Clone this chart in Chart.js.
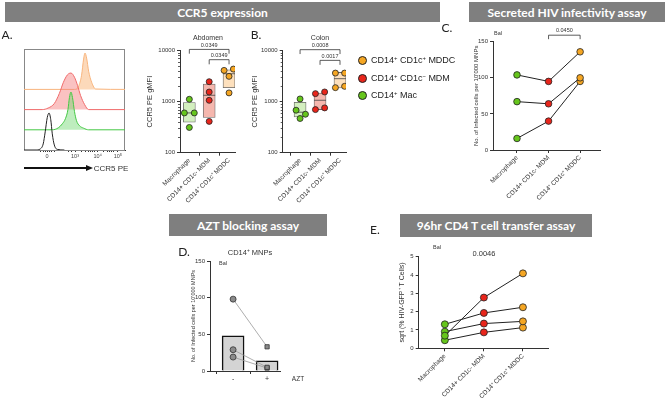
<!DOCTYPE html>
<html>
<head>
<meta charset="utf-8">
<script src="https://cdn.jsdelivr.net/npm/chart.js@4.4.1/dist/chart.umd.min.js"></script>
<style>
  body { margin: 0; background: #fff; }
  #fig { position: relative; width: 670px; height: 402px; overflow: hidden; font-family: "Liberation Sans", Arial, sans-serif; color: #222; }
  .pane { position: absolute; }
  .banner { position: absolute; background: #7f7f7f; color: #fff; font: 700 12px Lato, sans-serif; display: flex; align-items: center; justify-content: center; }
  .plabel { position: absolute; font: 12px Lato, sans-serif; transform: translate(-50%, -50%); will-change: transform; }
  .txt { position: absolute; white-space: nowrap; transform: translate(-50%, -50%); will-change: transform; color: #333; }
  .leg { position: absolute; left: 358px; font-size: 9px; white-space: nowrap; transform: translateY(-50%); will-change: transform; display: flex; align-items: center; }
  .leg .dot { width: 7px; height: 7px; border: 0.8px solid #222; border-radius: 50%; margin-right: 4px; }
  sup { font-size: 65%; line-height: 0; vertical-align: 0.45em; }
</style>
</head>
<body>
<div id="fig">
  <div class="banner" style="left:5px;top:2px;width:435px;height:20px">CCR5 expression</div>
  <div class="banner" style="left:469px;top:2px;width:196px;height:20px">Secreted HIV infectivity assay</div>
  <div class="banner" style="left:169px;top:214px;width:158px;height:22px">AZT blocking assay</div>
  <div class="banner" style="left:400px;top:214px;width:192px;height:23px">96hr CD4 T cell transfer assay</div>

  <div class="plabel" style="left:7px;top:34px">A.</div>
  <div class="plabel" style="left:256px;top:34px">B.</div>
  <div class="plabel" style="left:447px;top:27px">C.</div>
  <div class="plabel" style="left:184px;top:251px">D.</div>
  <div class="plabel" style="left:375px;top:229px">E.</div>

  <div class="txt" style="left:208px;top:37px;font-size:7px">Abdomen</div>
  <div class="txt" style="left:320px;top:37px;font-size:7px">Colon</div>
  <div class="txt" style="left:498px;top:33px;font-size:5.5px">Bal</div>
  <div class="txt" style="left:223px;top:263px;font-size:5.5px">Bal</div>
  <div class="txt" style="left:437px;top:247px;font-size:5.5px">Bal</div>
  <div class="txt" style="left:250px;top:252px;font-size:7.5px">CD14<sup>+</sup> MNPs</div>
  <div class="txt" style="left:298px;top:378px;font-size:6.5px">AZT</div>
  <div class="txt" style="left:484px;top:253px;font-size:7.5px">0.0046</div>

  <div style="position:absolute;left:24px;top:167px;width:62px;height:2px;background:#111"></div>
  <div style="position:absolute;left:86px;top:165px;width:0;height:0;border-top:3px solid transparent;border-bottom:3px solid transparent;border-left:7px solid #111"></div>
  <div class="txt" style="left:111px;top:168px;font-size:8px">CCR5 PE</div>

  <div class="leg" style="top:60px"><span class="dot" style="background:#f5a623"></span><span>CD14<sup>+</sup> CD1c<sup>+</sup> MDDC</span></div>
  <div class="leg" style="top:77.5px"><span class="dot" style="background:#e8251b"></span><span>CD14<sup>+</sup> CD1c<sup>&minus;</sup> MDM</span></div>
  <div class="leg" style="top:95px"><span class="dot" style="background:#66c61c"></span><span>CD14<sup>+</sup> Mac</span></div>

  <div class="pane" style="left:0;top:40px"><canvas id="hist" width="135" height="135"></canvas></div>
  <div class="pane" style="left:130px;top:30px"><canvas id="abdomen" width="115" height="200"></canvas></div>
  <div class="pane" style="left:245px;top:30px"><canvas id="colon" width="115" height="200"></canvas></div>
  <div class="pane" style="left:445px;top:25px"><canvas id="secreted" width="170" height="185"></canvas></div>
  <div class="pane" style="left:180px;top:240px"><canvas id="azt" width="130" height="160"></canvas></div>
  <div class="pane" style="left:385px;top:240px"><canvas id="transfer" width="175" height="160"></canvas></div>
</div>

<script>
// ---- data ----
const groups = ['Macrophage', 'CD14+ CD1c- MDM', 'CD14\u207A CD1c\u207A MDDC'];
const groupColors = ['#66c61c', '#e8251b', '#f5a623'];
const boxFills = ['#d3efbf', '#f5b7ae', '#fde0bd'];

// histogram overlay (A): x in channel units, h = normalised height above each row
const histTickPos = [22.8, 50.5, 73, 93];
const histTickLabels = ['0', '10\u00B3', '10\u2074', '10\u2075'];
const histMinorPos = [16, 19, 21, 25, 27, 30, 44, 47, 57, 61, 64, 66, 68, 70, 79, 83, 85, 87, 89];
const histBase = [0, 1, 2, 3];
const blackX = [0, 12, 16, 19, 21, 23, 24.8, 26.5, 28, 30, 33, 40];
const blackH = [0, 0, 0.05, 0.3, 0.9, 1.6, 1.83, 1.5, 0.8, 0.25, 0.03, 0];
const greenX = [0, 28, 34, 38, 41, 43.5, 45, 46.5, 48, 50, 52, 55, 59, 64, 100];
const greenH = [0, 0, 0.1, 0.3, 0.55, 1.0, 1.6, 1.87, 1.6, 0.9, 0.45, 0.2, 0.08, 0, 0];
const redX = [0, 18, 24, 30, 35, 39, 43, 46.5, 50, 53, 56, 60, 64, 100];
const redH = [0, 0, 0.08, 0.3, 0.8, 1.35, 1.72, 1.81, 1.6, 1.2, 0.7, 0.25, 0, 0];
const orangeX = [0, 50, 54, 57, 59, 60.4, 62, 64, 67, 71, 100];
const orangeH = [0, 0, 0.15, 0.7, 1.5, 1.8, 1.55, 0.9, 0.35, 0.02, 0];

// CCR5 gMFI box plots (A abdomen, B colon)
const logTicks = [100, 1000, 10000];
const logMinor = [200, 300, 400, 500, 600, 700, 800, 900, 2000, 3000, 4000, 5000, 6000, 7000, 8000, 9000];
const abdomenValues = [[1110, 600, 600, 312], [2450, 1540, 1060, 410], [4330, 4080, 3120, 1480]];
const abdomenJitter = [[0, -0.25, 0.25, 0], [0, 0, 0, 0], [0.22, -0.25, 0, 0]];
const abdomenBox = [[396, 600, 957], [488, 1330, 2210], [1870, 3510, 4200]]; // q1, median, q3
const abdomenSig = [{ from: 0, to: 2, top: 10500, drop: 8670, label: '0.0349' },
                    { from: 1, to: 2, top: 6610, drop: 5360, label: '0.0349' }];
const colonValues = [[1127, 678, 566, 467], [1432, 1543, 698, 753], [3615, 3615, 1874, 1990]];
const colonJitter = [[0, -0.2, 0.27, 0], [-0.23, 0.23, -0.23, 0.23], [-0.23, 0.23, -0.23, 0.23]];
const colonBox = [[502, 620, 970], [698, 1062, 1475], [1845, 2808, 3726]];
const colonSig = [{ from: 0, to: 2, top: 10380, drop: 8520, label: '0.0008' },
                  { from: 1, to: 2, top: 6410, drop: 5240, label: '0.0017' }];

// C: secreted infectivity, one line per donor
const secretedTicks = [0, 50, 100, 150];
const secretedDonors = [[104, 95, 136], [67, 64, 100], [16, 40, 95]];
const secretedSig = [{ from: 1, to: 2, top: 159, drop: 153.5, label: '0.0450' }];

// D: AZT blocking
const aztLabels = ['-', '+'];
const aztTicks = [0, 50, 100, 150];
const aztMeans = [48, 14];
const aztMinus = [98, 29, 19];
const aztPlus = [33, 5, 4];

// E: T cell transfer
const transferTicks = [0, 1, 2, 3, 4, 5];
const transferDonors = [[0.69, 2.77, 4.09], [1.31, 1.93, 2.24], [0.91, 1.35, 1.47], [0.44, 0.87, 1.13]];

// ---- setup ----
Chart.defaults.font.family = '"Liberation Sans", Arial, sans-serif';
Chart.defaults.color = '#333';
Chart.defaults.animation = false;
Chart.defaults.plugins.legend.display = false;
Chart.defaults.plugins.tooltip.enabled = false;

const bracketPlugin = {
  id: 'brackets',
  afterDatasetsDraw(chart, args, opts) {
    if (!opts.items) return;
    const { ctx, scales: { x, y } } = chart;
    ctx.save();
    ctx.strokeStyle = '#333';
    ctx.lineWidth = 0.8;
    ctx.fillStyle = '#333';
    ctx.font = '5.5px "Liberation Sans", Arial';
    ctx.textAlign = 'center';
    ctx.textBaseline = 'bottom';
    opts.items.forEach(b => {
      const x1 = x.getPixelForValue(b.from), x2 = x.getPixelForValue(b.to);
      const yt = y.getPixelForValue(b.top), yd = y.getPixelForValue(b.drop);
      ctx.beginPath();
      ctx.moveTo(x1, yd); ctx.lineTo(x1, yt); ctx.lineTo(x2, yt); ctx.lineTo(x2, yd);
      ctx.stroke();
      ctx.fillText(b.label, (x1 + x2) / 2, yt - 1.5);
    });
    ctx.restore();
  }
};

// short minor ticks on the left axis
const minorTickPlugin = {
  id: 'minorTicks',
  afterDraw(chart, args, opts) {
    if (!opts.values) return;
    const { ctx, scales: { y }, chartArea } = chart;
    ctx.save();
    ctx.strokeStyle = '#333';
    ctx.lineWidth = 0.8;
    opts.values.forEach(v => {
      const py = Math.round(y.getPixelForValue(v)) + 0.5;
      ctx.beginPath();
      ctx.moveTo(chartArea.left - 2, py); ctx.lineTo(chartArea.left, py);
      ctx.stroke();
    });
    ctx.restore();
  }
};

const framePlugin = {
  id: 'frame',
  beforeDatasetsDraw(chart, args, opts) {
    if (!opts.color) return;
    const { ctx, chartArea: a } = chart;
    ctx.save();
    ctx.strokeStyle = opts.color;
    ctx.lineWidth = 1;
    ctx.strokeRect(a.left + 0.5, a.top + 0.5, a.right - a.left - 1, a.bottom - a.top);
    ctx.restore();
  }
};

function xAxis(min, max, ticks, labels, height, rot, size) {
  return {
    type: 'linear', min, max, offset: false,
    afterBuildTicks: s => { s.ticks = ticks.map(v => ({ value: v })); },
    afterFit: s => { s.height = height; },
    grid: { drawOnChartArea: false, drawTicks: true, tickLength: 3, color: '#333', lineWidth: 1 },
    border: { display: true, color: '#333', width: 1 },
    ticks: { autoSkip: false, minRotation: rot, maxRotation: rot, padding: 1,
             font: { size }, color: '#333', callback: (v, i) => labels[i] }
  };
}

function yAxis(type, min, max, ticks, width, title, titleSize, titleCenter) {
  return {
    type, min, max,
    afterBuildTicks: s => { s.ticks = ticks.map(v => ({ value: v })); },
    afterFit: s => { s.width = width; },
    grid: { drawOnChartArea: false, drawTicks: true, tickLength: 3, color: '#333', lineWidth: 1 },
    border: { display: true, color: '#333', width: 1 },
    ticks: { autoSkip: false, padding: 2, font: { size: 6 }, color: '#333', callback: v => String(v) },
    title: { display: true, text: title, color: '#333', font: { size: titleSize, lineHeight: 1.2 },
             padding: { top: titleCenter - titleSize * 0.6, bottom: 0 } }
  };
}

// ---- A: histogram overlay ----
function histSet(xs, hs, base, line, fill) {
  return {
    data: xs.map((x, i) => ({ x, y: base + hs[i] })),
    borderColor: line, backgroundColor: fill, borderWidth: 1,
    fill: fill ? { value: base } : false,
    pointRadius: 0, cubicInterpolationMode: 'monotone'
  };
}
new Chart(document.getElementById('hist'), {
  type: 'line',
  data: { datasets: [
    histSet(blackX, blackH, histBase[0], '#222', null),
    histSet(greenX, greenH, histBase[1], '#45c845', 'rgba(110,215,110,0.45)'),
    histSet(redX, redH, histBase[2], '#f06a6a', 'rgba(245,120,120,0.45)'),
    histSet(orangeX, orangeH, histBase[3], '#f8b57e', 'rgba(250,185,130,0.55)')
  ] },
  options: {
    responsive: false,
    layout: { padding: { left: 24, right: 10, top: 9, bottom: 0 } },
    scales: {
      x: {
        type: 'linear', min: 0, max: 100,
        afterBuildTicks: s => {
          s.ticks = histTickPos.concat(histMinorPos).map(v => ({ value: v }));
        },
        afterFit: s => { s.height = 25; },
        grid: { drawOnChartArea: false, tickLength: 2, color: '#333' },
        border: { display: true, color: '#333' },
        ticks: { autoSkip: false, maxRotation: 0, padding: 1, font: { size: 5.5 }, color: '#444',
                 callback: (v, i) => i < histTickLabels.length ? histTickLabels[i] : '' }
      },
      y: { display: false, min: 0, max: 5 }
    },
    plugins: { frame: { color: '#888' } }
  },
  plugins: [framePlugin]
});

// ---- A/B: box plots ----
function boxChart(id, values, jitter, box, sig, xMin, yWidth, rightPad, titleCenter) {
  const datasets = [];
  values.forEach((vals, g) => {
    datasets.push({
      type: 'scatter', order: 0,
      data: vals.map((v, i) => ({ x: g + jitter[g][i], y: v })),
      pointRadius: 3, pointBackgroundColor: groupColors[g], pointBorderColor: '#222', pointBorderWidth: 0.8
    });
  });
  datasets.push({
    type: 'scatter', order: 1,
    data: box.map((b, g) => ({ x: g, y: b[1] })),
    pointStyle: 'line', pointRadius: 6, pointBorderColor: '#444', pointBorderWidth: 0.8
  });
  datasets.push({
    type: 'bar', order: 2,
    data: box.map((b, g) => ({ x: g, y: [b[0], b[2]] })),
    backgroundColor: boxFills, borderColor: '#666', borderWidth: 0.8, borderSkipped: false, barThickness: 12
  });
  new Chart(document.getElementById(id), {
    type: 'bar',
    data: { datasets },
    options: {
      responsive: false,
      layout: { padding: { left: 0, right: rightPad, top: 20.5, bottom: 0 } },
      scales: {
        x: xAxis(xMin, 2.3, [0, 1, 2], groups, 77.3, 45, 6.5),
        y: yAxis('logarithmic', 100, 10000, logTicks, yWidth, 'CCR5 PE gMFI', 7.5, titleCenter)
      },
      plugins: { brackets: { items: sig }, minorTicks: { values: logMinor } }
    },
    plugins: [bracketPlugin, minorTickPlugin]
  });
}
boxChart('abdomen', abdomenValues, abdomenJitter, abdomenBox, abdomenSig, -0.47, 50, 10, 20);
boxChart('colon', colonValues, colonJitter, colonBox, colonSig, -0.87, 37.7, 14, 10);

// ---- C: secreted infectivity ----
new Chart(document.getElementById('secreted'), {
  type: 'line',
  data: { datasets: secretedDonors.map(d => ({
    data: d.map((v, g) => ({ x: g, y: v })),
    borderColor: '#222', borderWidth: 1, pointRadius: 3.3,
    pointBackgroundColor: groupColors, pointBorderColor: '#222', pointBorderWidth: 0.8
  })) },
  options: {
    responsive: false,
    layout: { padding: { left: 0, right: 15, top: 16.7, bottom: 0 } },
    scales: {
      x: xAxis(-0.76, 2.63, [0, 1, 2], groups, 60, 45, 6.5),
      y: yAxis('linear', 0, 150, secretedTicks, 48, "No. of Infected cells per 10'000 MNPs", 6, 31)
    },
    plugins: { brackets: { items: secretedSig } }
  },
  plugins: [bracketPlugin]
});

// ---- D: AZT blocking ----
const aztSets = aztMinus.map((m, i) => ({
  type: 'line', order: 0,
  data: [{ x: 0, y: m }, { x: 1, y: aztPlus[i] }],
  borderColor: '#999', borderWidth: 0.8,
  pointStyle: ['circle', 'rect'], pointRadius: 3, pointBackgroundColor: '#8a8a8a',
  pointBorderColor: '#333', pointBorderWidth: 0.8
}));
aztSets.push({
  type: 'bar', order: 1,
  data: aztMeans.map((v, i) => ({ x: i, y: v })),
  backgroundColor: '#d4d4d4', borderColor: '#111', borderWidth: 1.5, barThickness: 22
});
new Chart(document.getElementById('azt'), {
  type: 'bar',
  data: { datasets: aztSets },
  options: {
    responsive: false,
    layout: { padding: { left: 0, right: 30, top: 21, bottom: 0 } },
    scales: {
      x: xAxis(-0.68, 1.38, [0, 1], aztLabels, 29, 0, 7),
      y: yAxis('linear', 0, 150, aztTicks, 30, "No. of Infected cells per 10'000 MNPs", 5.5, 13.3)
    }
  }
});

// ---- E: transfer assay ----
new Chart(document.getElementById('transfer'), {
  type: 'line',
  data: { datasets: transferDonors.map(d => ({
    data: d.map((v, g) => ({ x: g, y: v })),
    borderColor: '#222', borderWidth: 1, pointRadius: 3.5,
    pointBackgroundColor: groupColors, pointBorderColor: '#222', pointBorderWidth: 0.8
  })) },
  options: {
    responsive: false,
    layout: { padding: { left: 0, right: 11.7, top: 16.7, bottom: 0 } },
    scales: {
      x: xAxis(-0.67, 2.65, [0, 1, 2], groups, 51.7, 45, 6.5),
      y: yAxis('linear', 0, 5, transferTicks, 33.7, 'sqrt (% HIV-GFP\u207A T Cells)', 7, 16.7)
    }
  }
});
</script>
</body>
</html>
